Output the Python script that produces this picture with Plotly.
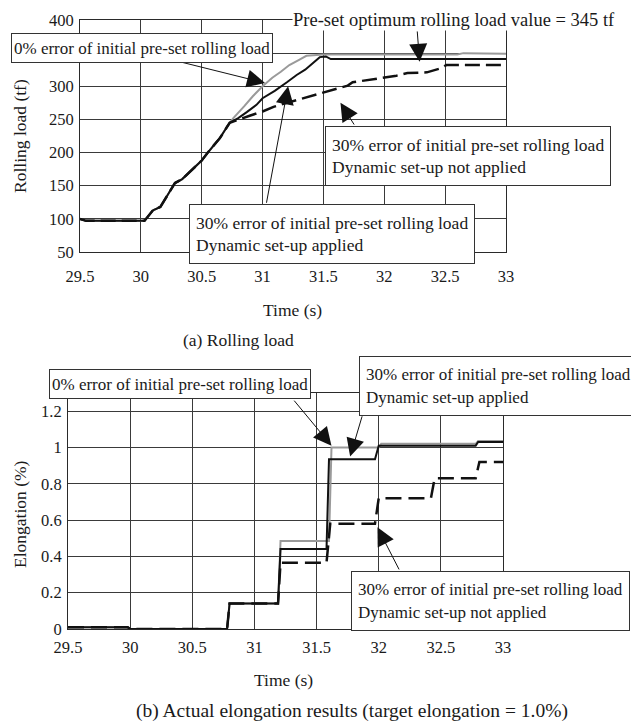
import plotly.graph_objects as go

# ---------------- data: (a) rolling load ----------------
gray_load_t = [29.5, 29.55, 30.03, 30.1, 30.16, 30.28, 30.34, 30.4, 30.5, 30.55, 30.65, 30.71,
               30.76, 30.85, 30.92, 31.0, 31.08, 31.15, 31.22, 31.3, 31.36, 31.5, 32.6, 32.65, 33.0]
gray_load_v = [100, 97, 97, 113, 118, 154, 160, 171, 188, 200, 222, 240,
               252, 270, 285, 300, 313, 322, 332, 340, 346, 348, 348, 350, 349]

black_load_t = [29.5, 29.55, 30.03, 30.1, 30.16, 30.28, 30.34, 30.4, 30.5, 30.55, 30.65, 30.73,
                30.8, 30.87, 30.95, 31.0, 31.1, 31.2, 31.28, 31.35, 31.41, 31.47, 31.52, 31.56, 33.0]
black_load_v = [100, 97, 97, 113, 118, 154, 160, 171, 188, 200, 222, 245,
                252, 261, 272, 282, 293, 306, 317, 325, 335, 344, 345, 341, 341]

dash_load_t = [29.5, 29.55, 30.03, 30.1, 30.16, 30.28, 30.34, 30.4, 30.5, 30.55, 30.65, 30.73,
               30.8, 30.9, 31.0, 31.09, 31.2, 31.28, 31.4, 31.5, 31.64, 31.7, 31.74, 31.85, 31.99,
               32.1, 32.19, 32.35, 32.46, 32.51, 33.0]
dash_load_v = [100, 97, 97, 113, 118, 154, 160, 171, 188, 200, 222, 245,
               250, 256, 262, 269, 275, 279, 285, 291, 297, 301, 306, 309, 312,
               316, 320, 321, 327, 332, 332]

# ---------------- data: (b) elongation ----------------
gray_el_t = [29.5, 29.98, 30.0, 30.78, 30.8, 31.19, 31.21, 31.6, 31.62, 32.0, 32.02, 32.78, 32.8, 33.0]
gray_el_v = [0.01, 0.01, 0.0, 0.0, 0.14, 0.14, 0.485, 0.485, 1.0, 1.0, 1.02, 1.02, 1.035, 1.035]

black_el_t = [29.5, 29.98, 30.0, 30.78, 30.8, 31.19, 31.21, 31.58, 31.6, 31.97, 32.0, 32.78, 32.8, 33.0]
black_el_v = [0.01, 0.01, 0.0, 0.0, 0.14, 0.14, 0.44, 0.44, 0.935, 0.935, 1.01, 1.01, 1.03, 1.03]

dash_el_t = [29.5, 29.98, 30.0, 30.78, 30.8, 31.19, 31.21, 31.58, 31.61, 31.97, 32.0,
             32.42, 32.45, 32.78, 32.81, 33.0]
dash_el_v = [0.01, 0.01, 0.0, 0.0, 0.14, 0.14, 0.365, 0.365, 0.58, 0.58, 0.72,
             0.72, 0.83, 0.83, 0.92, 0.92]

load_ticks = [50, 100, 150, 200, 250, 300, 350, 400]
load_ticktext = ["50", "100", "150", "200", "250", "300", "", "400"]  # 350 is hidden by a box
el_ticks = [0, 0.2, 0.4, 0.6, 0.8, 1.0, 1.2]
time_ticks = [29.5, 30, 30.5, 31, 31.5, 32, 32.5, 33]

OFF = 8                      # page body margin
W, H = 639 - OFF, 722 - OFF
FONT = "Liberation Serif"
TXT = "#1a1a1a"
FS = 16.5

fig = go.Figure()

def add_series(t, v, xa, ya, color, width, dash="solid"):
    fig.add_trace(go.Scatter(x=t, y=v, xaxis=xa, yaxis=ya, mode="lines",
                             line=dict(color=color, width=width, dash=dash),
                             showlegend=False, hoverinfo="skip"))

add_series(gray_load_t, gray_load_v, "x", "y", "#9a9a9a", 2)
add_series(dash_load_t, dash_load_v, "x", "y", "#111111", 2.5, "15px,6px")
add_series(black_load_t, black_load_v, "x", "y", "#111111", 2)

add_series(gray_el_t, gray_el_v, "x2", "y2", "#9a9a9a", 2)
add_series(dash_el_t, dash_el_v, "x2", "y2", "#111111", 2.5, "16px,7px")
add_series(black_el_t, black_el_v, "x2", "y2", "#111111", 2)

def px_x(p):
    return (p - OFF) / W

def px_y(p):
    return 1 - (p - OFF) / H

axis_common = dict(showgrid=True, gridcolor="#3a3a3a", gridwidth=1, showline=True,
                   linecolor="#2a2a2a", linewidth=1, mirror=True, zeroline=False,
                   automargin=False, ticks="",
                   tickfont=dict(family=FONT, size=FS, color=TXT))

fig.update_layout(
    width=W, height=H,
    margin=dict(l=0, r=0, t=0, b=0, autoexpand=False),
    paper_bgcolor="white", plot_bgcolor="white",
    xaxis=dict(domain=[px_x(80), px_x(506)], range=[29.5, 33], tickvals=time_ticks,
               anchor="y", ticklabelstandoff=9, **axis_common),
    yaxis=dict(domain=[px_y(252), px_y(20)], range=[50, 400], tickvals=load_ticks,
               ticktext=load_ticktext, anchor="x", ticklabelstandoff=2, **axis_common),
    xaxis2=dict(domain=[px_x(68), px_x(503)], range=[29.5, 33], tickvals=time_ticks,
                anchor="y2", ticklabelstandoff=3, **axis_common),
    yaxis2=dict(domain=[px_y(629), px_y(393)], range=[0, 1.3], tickvals=el_ticks,
                anchor="x2", ticklabelstandoff=2, **axis_common),
)

anns = []

def text_ann(text, x, y, size=FS, xanchor="center", yanchor="middle", angle=0):
    anns.append(dict(text=text, x=px_x(x), y=px_y(y), xref="paper", yref="paper",
                     xanchor=xanchor, yanchor=yanchor, showarrow=False, textangle=angle,
                     font=dict(family=FONT, size=size, color=TXT)))

def box_ann(text, left, top, pad, height, size):
    anns.append(dict(text=text, x=px_x(left), y=px_y(top), xref="paper", yref="paper",
                     xanchor="left", yanchor="top", showarrow=False, align="left",
                     height=height, valign="middle",
                     bgcolor="white", bordercolor="#333333", borderwidth=1, borderpad=pad,
                     font=dict(family=FONT, size=size, color=TXT)))

def arrow_ann(xa, ya, tip_x, tip_y, tail_x, tail_y):
    anns.append(dict(text="", x=tip_x, y=tip_y, ax=tail_x, ay=tail_y,
                     xref=xa, yref=ya, axref=xa, ayref=ya, showarrow=True,
                     arrowhead=2, arrowsize=3.6, arrowwidth=1, arrowcolor="#111111"))

# axis titles and captions
text_ann("Rolling load (tf)", 20, 136, size=17.5, angle=-90)
text_ann("Time (s)", 292, 310, size=17.5)
text_ann("(a) Rolling load", 238, 340, size=17.5)
text_ann("Elongation (%)", 20, 514, size=17.5, angle=-90)
text_ann("Time (s)", 283, 680, size=17.5)
text_ann("(b) Actual elongation results (target elongation = 1.0%)", 352, 711, size=19.5)

# top chart arrows
arrow_ann("x", "y", 32.29, 337, 32.27, 385)
arrow_ann("x", "y", 31.02, 305, 30.32, 337)
arrow_ann("x", "y", 31.21, 300, 31.03, 122)
arrow_ann("x", "y", 31.64, 275, 31.76, 240)

# bottom chart arrows
arrow_ann("x2", "y2", 31.62, 1.01, 31.31, 1.266)
arrow_ann("x2", "y2", 31.77, 0.95, 31.87, 1.18)
arrow_ann("x2", "y2", 31.99, 0.56, 32.17, 0.32)

# top chart text boxes
anns.append(dict(text="Pre-set optimum rolling load value = 345 tf", x=px_x(292), y=px_y(OFF + 0.5),
                 xref="paper", yref="paper", xanchor="left", yanchor="top", showarrow=False,
                 bgcolor="white", borderpad=0, font=dict(family=FONT, size=18.5, color=TXT)))
box_ann("0% error of initial pre-set rolling load", 11, 33, 2, 24, 17)
box_ann("30% error of initial pre-set rolling load<br>Dynamic set-up not applied", 325, 126, 6, 46, 17.5)
box_ann("30% error of initial pre-set rolling load<br>Dynamic set-up applied", 189, 204, 6, 46, 17.5)

# bottom chart text boxes
box_ann("0% error of initial pre-set rolling load", 49, 369, 2, 24, 17)
box_ann("30% error of initial pre-set rolling load<br>Dynamic set-up applied", 359, 356, 6, 46, 17)
box_ann("30% error of initial pre-set rolling load<br>Dynamic set-up not applied", 351, 571, 6, 46, 17)

fig.update_layout(annotations=anns)
fig.write_html("out.html")
